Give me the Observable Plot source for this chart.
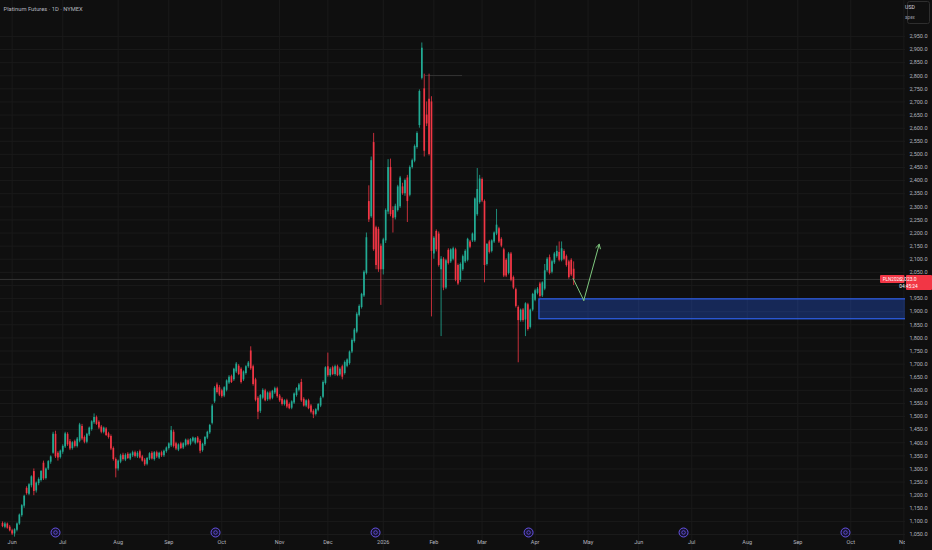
<!DOCTYPE html>
<html><head><meta charset="utf-8">
<script src="https://cdn.jsdelivr.net/npm/d3@7"></script>
<script src="https://cdn.jsdelivr.net/npm/@observablehq/plot@0.6"></script>
<style>
html,body{margin:0;padding:0;background:#0f0f0f;}
#chart{width:932px;height:550px;overflow:hidden;position:relative;}
svg{display:block;}
</style></head><body><div id="chart"></div>
<script>
// Daily candles [open, high, low, close], one array per month (trading days only)
const may25 = [[1092,1098,1076,1080],[1078,1096,1072,1090],[1090,1094,1070,1074],[1078,1084,1060,1064]];
const jun25 = [[1064,1070,1046,1052],[1052,1072,1040,1068],[1066,1094,1060,1090],[1090,1128,1085,1124],[1122,1164,1116,1160],[1158,1200,1150,1196],[1226,1232,1200,1206],[1204,1244,1198,1240],[1236,1274,1228,1270],[1290,1300,1198,1214],[1216,1250,1208,1246],[1244,1266,1236,1260],[1256,1294,1250,1290],[1322,1330,1256,1262],[1264,1304,1258,1300],[1300,1332,1294,1328],[1326,1350,1318,1346],[1360,1440,1356,1432],[1432,1444,1340,1346],[1360,1366,1330,1342],[1344,1372,1338,1368]];
const jul25 = [[1364,1392,1356,1386],[1384,1440,1378,1434],[1432,1438,1386,1392],[1404,1412,1370,1376],[1378,1404,1372,1400],[1404,1410,1380,1386],[1386,1420,1380,1414],[1406,1474,1400,1468],[1462,1470,1408,1414],[1420,1426,1396,1402],[1402,1436,1396,1432],[1430,1460,1424,1456],[1450,1484,1444,1480],[1476,1510,1470,1496],[1496,1502,1466,1470],[1478,1484,1450,1456],[1460,1466,1434,1440],[1440,1460,1434,1456],[1452,1458,1424,1428],[1434,1440,1414,1420],[1424,1430,1370,1376],[1378,1384,1330,1336],[1336,1342,1266,1300]];
const aug25 = [[1300,1334,1292,1330],[1326,1356,1320,1350],[1352,1360,1330,1336],[1334,1358,1328,1352],[1356,1362,1336,1340],[1338,1360,1332,1356],[1350,1368,1344,1362],[1362,1368,1342,1348],[1346,1366,1340,1360],[1366,1372,1338,1342],[1346,1352,1326,1330],[1334,1340,1310,1316],[1318,1344,1312,1340],[1338,1362,1332,1358],[1360,1366,1334,1338],[1336,1366,1330,1362],[1362,1368,1340,1346],[1342,1364,1336,1360],[1362,1368,1344,1350],[1350,1372,1344,1368],[1366,1384,1360,1380]];
const sep25 = [[1378,1400,1372,1396],[1388,1462,1382,1446],[1440,1448,1380,1386],[1396,1402,1370,1376],[1372,1396,1366,1392],[1396,1402,1374,1378],[1380,1400,1374,1396],[1390,1414,1384,1410],[1408,1414,1388,1392],[1394,1416,1388,1412],[1406,1422,1400,1418],[1398,1420,1392,1416],[1418,1424,1396,1400],[1406,1412,1358,1368],[1370,1398,1364,1394],[1392,1424,1386,1420],[1418,1444,1412,1440],[1438,1470,1432,1466],[1474,1546,1468,1540],[1556,1614,1550,1608],[1620,1628,1586,1592],[1610,1618,1576,1582]];
const oct25 = [[1598,1604,1570,1576],[1578,1614,1572,1610],[1600,1640,1594,1636],[1628,1656,1622,1650],[1652,1658,1626,1630],[1640,1684,1634,1680],[1670,1706,1664,1700],[1692,1698,1656,1660],[1680,1686,1624,1630],[1640,1674,1634,1670],[1664,1694,1658,1690],[1690,1710,1684,1704],[1750,1766,1676,1682],[1690,1696,1616,1622],[1640,1646,1556,1562],[1570,1576,1488,1516],[1520,1584,1512,1580],[1570,1606,1564,1600],[1598,1604,1556,1560],[1564,1594,1558,1590],[1590,1596,1560,1566],[1570,1600,1564,1596],[1590,1612,1584,1606]];
const nov25 = [[1606,1612,1570,1576],[1578,1584,1554,1560],[1566,1572,1540,1546],[1546,1564,1540,1560],[1560,1566,1530,1536],[1546,1552,1526,1530],[1532,1560,1526,1556],[1552,1590,1546,1586],[1580,1610,1574,1606],[1600,1626,1594,1620],[1630,1642,1554,1560],[1566,1572,1536,1540],[1540,1564,1534,1560],[1560,1566,1526,1530],[1540,1546,1510,1516],[1520,1526,1492,1506],[1508,1530,1502,1526],[1524,1550,1518,1546],[1540,1576,1534,1570],[1574,1636,1568,1630]];
const dec25 = [[1626,1690,1620,1686],[1690,1742,1650,1656],[1656,1686,1650,1680],[1686,1692,1656,1660],[1660,1696,1654,1690],[1690,1696,1652,1656],[1658,1686,1652,1680],[1690,1696,1640,1650],[1664,1712,1658,1706],[1692,1720,1686,1716],[1702,1750,1696,1746],[1746,1796,1740,1790],[1786,1836,1780,1830],[1822,1896,1816,1890],[1886,1926,1880,1920],[1916,1970,1910,1966],[1960,2056,1954,2050],[2046,2200,2040,2182],[2320,2380,2240,2250],[2262,2490,2256,2476],[2545,2580,2130,2136],[2220,2226,2060,2076],[2214,2222,2050,2060]];
const jan26 = [[2150,2158,1924,2060],[2060,2180,2040,2174],[2170,2292,2160,2286],[2280,2480,2270,2450],[2450,2482,2262,2270],[2286,2300,2200,2256],[2258,2310,2250,2302],[2286,2382,2280,2376],[2300,2416,2294,2410],[2376,2390,2344,2350],[2350,2406,2340,2400],[2410,2420,2240,2320],[2344,2456,2338,2450],[2450,2482,2444,2476],[2474,2536,2468,2530],[2526,2586,2520,2580],[2610,2746,2600,2740],[2790,2925,2784,2905],[2750,2806,2490,2512],[2650,2700,2606,2616],[2710,2806,2494,2500],[2700,2720,1880,2130]];
const feb26 = [[2120,2186,2100,2180],[2206,2212,2128,2136],[2196,2204,2070,2076],[2060,2110,1805,2100],[2100,2106,1980,1990],[1990,2100,1984,2094],[2134,2140,2078,2084],[2090,2140,2084,2136],[2100,2146,2094,2140],[2136,2142,2014,2020],[2076,2082,2000,2006],[2020,2086,2012,2080],[2060,2116,2054,2110],[2090,2136,2084,2130],[2096,2180,2090,2176],[2166,2172,2140,2146],[2170,2200,2164,2196],[2170,2334,2164,2330],[2270,2446,2264,2366],[2316,2420,2310,2406]];
const mar26 = [[2404,2410,2316,2322],[2320,2326,2010,2076],[2080,2160,2074,2156],[2166,2172,2120,2126],[2130,2174,2124,2170],[2166,2204,2160,2200],[2196,2290,2190,2230],[2216,2222,2160,2166],[2176,2182,2144,2150],[2136,2142,2030,2036],[2096,2102,2030,2036],[2046,2126,2040,2120],[2120,2126,2014,2020],[2030,2036,1984,1990],[1984,1990,1914,1920],[1916,1922,1705,1866],[1866,1910,1860,1906],[1906,1912,1860,1866],[1868,1934,1805,1930],[1926,1932,1826,1832],[1840,1910,1834,1906],[1906,1970,1900,1966]];
const apr26 = [[1944,1986,1938,1980],[1970,1992,1964,1986],[2006,2012,1952,1958],[1960,2014,1954,2010],[1986,2080,1980,2056],[2056,2106,2050,2100],[2106,2116,2040,2046],[2050,2096,2044,2090],[2086,2126,2080,2120],[2110,2150,2104,2130],[2126,2166,2090,2096],[2096,2166,2090,2140],[2130,2136,2094,2100],[2110,2116,2070,2076],[2090,2096,2024,2030],[2096,2102,2034,2040],[2062,2090,2000,2023]];

// Time axis: bar index of each month's first trading day and its label
const monthLabels = ["Jun","Jul","Aug","Sep","Oct","Nov","Dec","2026","Feb","Mar","Apr","May","Jun","Jul","Aug","Sep","Oct","Nov"];
const monthIdx    = [4,25,48,69,91,115,135,158,179,199,221,243,264,286,309,330,352,374];
// Price axis ticks (the one hidden behind the last-price label is left out)
const yTicks = d3.range(1050, 2951, 50);
const hiddenTicks = [2000];
// Contract-roll markers (bar index)
const rollIdx = [22, 88.4, 154.8, 218.3, 282.6, 349.8];
// Drawings
const zone = [{x1: 222.8, x2: 380, top: 1947, bottom: 1871}];
const pathLeg = [{i: 236.8, p: 2026}, {i: 241.2, p: 1943}];
const arrowLeg = [{x1: 241.2, y1: 1943, x2: 247.6, y2: 2157}];
const highMark = [{p: 2801, x1: 175.5, x2: 190.9}];
const lastPrice = 2023;
const symbol = "PLN2026", countdown = "04:45:24";
const title = "Platinum Futures · 1D · NYMEX";

const UP = "#22ab94", DOWN = "#f23645";
const candles = [may25,jun25,jul25,aug25,sep25,oct25,nov25,dec25,jan26,feb26,mar26,apr26]
  .flat().map((r, i) => ({i, o: r[0], h: r[1], l: r[2], c: r[3], col: r[3] >= r[0] ? UP : DOWN}));

const FONT = "Roboto, 'Noto Sans', 'DejaVu Sans', sans-serif";
const fmt = d3.format(",.1f");
const shownTicks = yTicks.filter(t => !hiddenTicks.includes(t));

const chart = Plot.plot({
  width: 932, height: 550,
  marginLeft: 0, marginRight: 27, marginTop: 0, marginBottom: 0,
  style: {background: "#0f0f0f", color: "#b2b5be", fontFamily: FONT},
  x: {domain: [-0.83, 374.7], axis: null},
  y: {domain: [989, 3087], axis: null},
  color: {type: "identity"},
  marks: [
    Plot.ruleX(monthIdx, {x: d => d, stroke: "#1a1a1a", strokeWidth: 1}),
    Plot.ruleY(yTicks, {y: d => d, stroke: "#1a1a1a", strokeWidth: 1}),
    Plot.ruleY([lastPrice], {y: d => d, stroke: "#3d3d3d", strokeWidth: 0.8}),
    Plot.ruleY(highMark, {y: "p", x1: "x1", x2: "x2", stroke: "#3a3a3a", strokeWidth: 0.8}),
    Plot.ruleX(candles, {x: "i", y1: "l", y2: "h", stroke: "col", strokeWidth: 0.8}),
    Plot.ruleX(candles, {x: "i", y1: "o", y2: "c", stroke: "col", strokeWidth: 1.7}),
    Plot.rect(zone, {x1: "x1", x2: "x2", y1: "bottom", y2: "top", fill: "#2962ff", fillOpacity: 0.3, stroke: "#2f62f0", strokeWidth: 1.2, clip: true}),
    Plot.line(pathLeg, {x: "i", y: "p", stroke: "#7fc97f", strokeWidth: 1}),
    Plot.arrow(arrowLeg, {x1: "x1", y1: "y1", x2: "x2", y2: "y2", stroke: "#7fc97f", strokeWidth: 1, headLength: 7}),
    Plot.dot(rollIdx, {x: d => d, frameAnchor: "bottom", dy: -18, r: 4.5, stroke: "#6653e6", fill: "#17132e", strokeWidth: 1}),
    Plot.dot(rollIdx, {x: d => d, frameAnchor: "bottom", dy: -18, r: 1.8, stroke: "#6653e6", fill: "none", strokeWidth: 0.8}),
    Plot.text(monthIdx, {x: d => d, text: (d, k) => monthLabels[k], frameAnchor: "bottom", dy: -7, fill: "#b2b5be", fontSize: 5.5, clip: true}),
    Plot.text(shownTicks, {y: d => d, text: d => fmt(d), frameAnchor: "right", dx: 4, textAnchor: "start", fill: "#b2b5be", fontSize: 5.5}),
    Plot.text([title], {frameAnchor: "top-left", dx: 3, dy: 6, textAnchor: "start", fill: "#b2b5be", fontSize: 5.8})
  ]
});
document.getElementById("chart").append(chart);

// Price labels on the axis at the last price, positioned with the plot's y scale
const svg = d3.select(chart);
const yp = chart.scale("y").apply(lastPrice);
const g = svg.append("g").attr("font-family", FONT);
g.append("rect").attr("x", 880).attr("y", yp - 4).attr("width", 24.5).attr("height", 8).attr("rx", 1).attr("fill", DOWN);
g.append("text").attr("x", 892.2).attr("y", yp + 1.8).attr("text-anchor", "middle").attr("fill", "#fff").attr("font-size", 4.6).text(symbol);
g.append("rect").attr("x", 906).attr("y", yp - 4).attr("width", 26).attr("height", 15).attr("rx", 1).attr("fill", DOWN);
g.append("text").attr("x", 908.5).attr("y", yp + 1.8).attr("fill", "#fff").attr("font-size", 5).text(fmt(lastPrice));
g.append("text").attr("x", 908.5).attr("y", yp + 8.6).attr("fill", "#fff").attr("font-size", 4.8).text(countdown);
// Currency selector box
const u = svg.append("g").attr("font-family", FONT).attr("font-size", 5.2);
u.append("rect").attr("x", 907.5).attr("y", 1.5).attr("width", 22).attr("height", 22).attr("rx", 2).attr("fill", "#0f0f0f").attr("stroke", "#2e2e2e");
u.append("text").attr("x", 910).attr("y", 9).attr("fill", "#d1d4dc").text("USD");
u.append("text").attr("x", 910).attr("y", 18.5).attr("fill", "#9598a1").attr("font-size", 4.6).text("apex");
</script></body></html>
